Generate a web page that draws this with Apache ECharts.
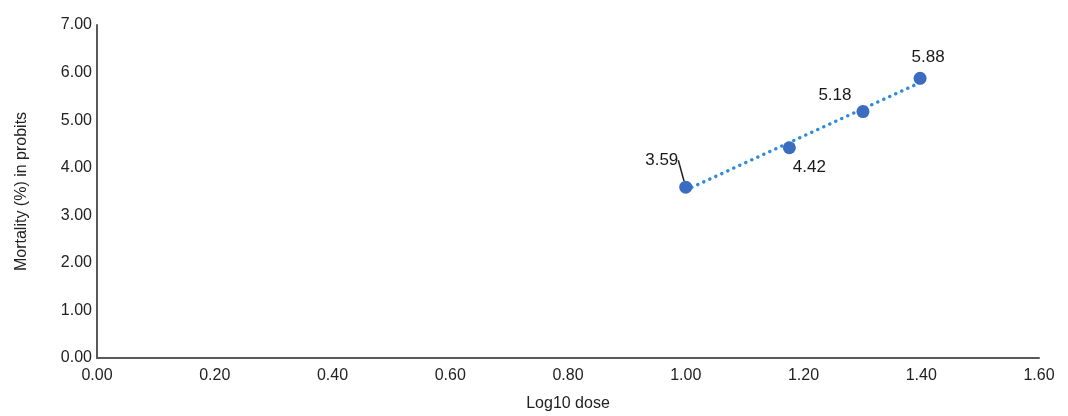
<!DOCTYPE html>
<html>
<head>
<meta charset="utf-8">
<script src="https://cdn.jsdelivr.net/npm/echarts@6/dist/echarts.min.js"></script>
<style>
  html, body { margin: 0; padding: 0; background: #fff; }
  #chart { width: 1068px; height: 416px; }
</style>
</head>
<body>
<div id="chart"></div>
<script>
// data
const doses = [1.00, 1.176, 1.301, 1.398]
const probits = [3.59, 4.42, 5.18, 5.88]
// dotted trend line, endpoints
const trendX = [1.00, 1.398]
const trendY = [3.53, 5.79]

// label offsets from each point (px)
const labelOffsets = [[-24, -27], [20, 20], [-28, -16], [8, -21]]

const font = 'Liberation Sans, Arial, sans-serif'

let chart = echarts.init(document.getElementById('chart'))

let option = {
  animation: false,
  grid: { left: 97, right: 29, top: 25, bottom: 58, outerBoundsMode: 'none' },
  xAxis: {
    type: 'value',
    min: 0, max: 1.6, interval: 0.2,
    name: 'Log10 dose',
    nameLocation: 'middle',
    nameGap: 38,
    nameTextStyle: { fontFamily: font, fontSize: 16, color: '#222' },
    axisLine: { show: true, lineStyle: { color: '#595959', width: 2 } },
    axisTick: { show: false },
    splitLine: { show: false },
    axisLabel: {
      fontFamily: font, fontSize: 16, color: '#222', margin: 10,
      formatter: v => v.toFixed(2)
    }
  },
  yAxis: {
    type: 'value',
    min: 0, max: 7, interval: 1,
    name: 'Mortality (%) in probits',
    nameLocation: 'middle',
    nameGap: 67,
    nameTextStyle: { fontFamily: font, fontSize: 16, color: '#222' },
    axisLine: { show: true, lineStyle: { color: '#595959', width: 2 } },
    axisTick: { show: false },
    splitLine: { show: false },
    axisLabel: {
      fontFamily: font, fontSize: 16, color: '#222', margin: 5,
      formatter: v => v.toFixed(2)
    }
  },
  series: [
    {
      type: 'line',
      data: trendX.map((x, i) => [x, trendY[i]]),
      symbol: 'none',
      lineStyle: { color: '#2e8bdc', width: 3.5, type: [0.1, 6.5], cap: 'round' },
      z: 2
    },
    {
      type: 'scatter',
      symbolSize: 13,
      itemStyle: { color: '#3a6cc0', opacity: 1 },
      data: doses.map((x, i) => ({
        value: [x, probits[i]],
        labelLine: { show: i === 0, lineStyle: { color: '#222', width: 1.5 } }
      })),
      label: {
        show: true,
        position: 'inside',
        fontFamily: font,
        fontSize: 17,
        color: '#1a1a1a',
        formatter: p => probits[p.dataIndex].toFixed(2)
      },
      labelLayout: p => ({ dx: labelOffsets[p.dataIndex][0], dy: labelOffsets[p.dataIndex][1] }),
      z: 3
    }
  ]
}

chart.setOption(option, true)
</script>
</body>
</html>
